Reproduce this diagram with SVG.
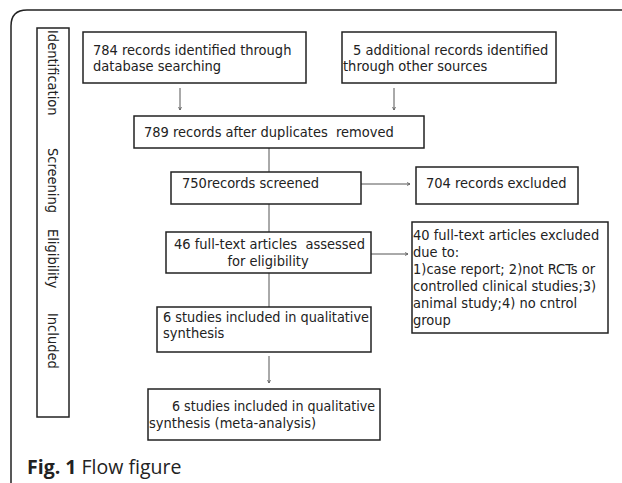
<svg xmlns="http://www.w3.org/2000/svg" width="622" height="483" viewBox="0 0 622 483">
<style>
.box{fill:#fff;stroke:#222;stroke-width:1.5}
.t{font-family:"DejaVu Sans Condensed","DejaVu Sans",sans-serif;font-size:14.5px;fill:#222}
.side{font-family:"DejaVu Sans Condensed","DejaVu Sans",sans-serif;font-size:14.5px;fill:#222}
.ln{stroke:#555;stroke-width:1;fill:none}
</style>
<defs>
<marker id="ah" markerWidth="4" markerHeight="4" refX="3" refY="2" orient="auto" markerUnits="userSpaceOnUse">
<path d="M0,0.5 L3,2 L0,3.5" fill="none" stroke="#555" stroke-width="0.8"/>
</marker>
</defs>
<rect width="622" height="483" fill="#fff"/>
<path d="M11,483 L11,26 Q11,10 27,10 L622,10" fill="none" stroke="#222" stroke-width="1.5"/>
<g id="sidebar">
<rect x="37" y="28" width="32" height="389" class="box"/>
<text class="side" transform="translate(48,30) rotate(90)">Identification</text>
<text class="side" transform="translate(48,148) rotate(90)">Screening</text>
<text class="side" transform="translate(48,229) rotate(90)">Eligibility</text>
<text class="side" transform="translate(48,313) rotate(90)">Included</text>
</g>
<g id="connectors">
<line class="ln" x1="180" y1="88" x2="180" y2="110" marker-end="url(#ah)"/>
<line class="ln" x1="394" y1="88" x2="394" y2="110" marker-end="url(#ah)"/>
<line class="ln" x1="269" y1="148" x2="269" y2="172"/>
<line class="ln" x1="361" y1="184" x2="410" y2="184" marker-end="url(#ah)"/>
<line class="ln" x1="269" y1="204" x2="269" y2="232"/>
<line class="ln" x1="371" y1="254" x2="408" y2="254" marker-end="url(#ah)"/>
<line class="ln" x1="269" y1="273" x2="269" y2="307"/>
<line class="ln" x1="269" y1="356" x2="269" y2="383" marker-end="url(#ah)"/>
</g>
<g id="n1">
<rect x="83" y="32" width="223" height="51" class="box"/>
<text class="t" x="93" y="55">784 records identified through</text>
<text class="t" x="93" y="71">database searching</text>
</g>
<g id="n2">
<rect x="342" y="32" width="214" height="51" class="box"/>
<text class="t" x="353" y="55">5 additional records identified</text>
<text class="t" x="343" y="71">through other sources</text>
</g>
<g id="n3">
<rect x="134" y="116" width="290" height="32" class="box"/>
<text class="t" x="144" y="137" xml:space="preserve">789 records after duplicates  removed</text>
</g>
<g id="n4">
<rect x="171" y="172" width="190" height="32" class="box"/>
<text class="t" x="182" y="188">750records screened</text>
</g>
<g id="n5">
<rect x="416" y="167" width="162" height="37" class="box"/>
<text class="t" x="426" y="188">704 records excluded</text>
</g>
<g id="n6">
<rect x="166" y="232" width="205" height="41" class="box"/>
<text class="t" x="174" y="249" xml:space="preserve">46 full-text articles  assessed</text>
<text class="t" x="268" y="266" text-anchor="middle">for eligibility</text>
</g>
<g id="n7">
<rect x="412" y="222" width="196" height="111" class="box"/>
<text class="t" x="413" y="240">40 full-text articles excluded</text>
<text class="t" x="413" y="257">due to:</text>
<text class="t" x="413" y="274">1)case report; 2)not RCTs or</text>
<text class="t" x="413" y="291">controlled clinical studies;3)</text>
<text class="t" x="413" y="308">animal study;4) no cntrol</text>
<text class="t" x="413" y="325">group</text>
</g>
<g id="n8">
<rect x="157" y="307" width="214" height="45" class="box"/>
<text class="t" x="163" y="322" textLength="206" lengthAdjust="spacingAndGlyphs">6 studies included in qualitative</text>
<text class="t" x="163" y="338">synthesis</text>
</g>
<g id="n9">
<rect x="148" y="389" width="232" height="51" class="box"/>
<text class="t" x="172" y="411" textLength="203" lengthAdjust="spacingAndGlyphs">6 studies included in qualitative</text>
<text class="t" x="149" y="428">synthesis (meta-analysis)</text>
</g>
<text x="27" y="474" font-family="'Open Sans','Noto Sans',sans-serif" font-size="19.5" fill="#222"><tspan font-weight="bold">Fig. 1</tspan> Flow figure</text>
</svg>
